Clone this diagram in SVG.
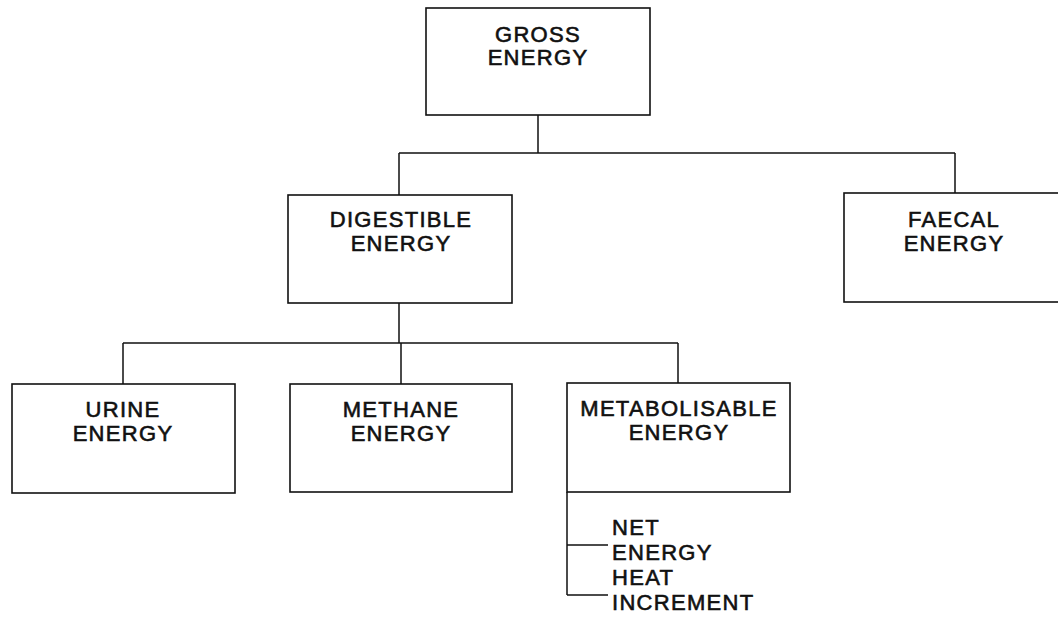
<svg xmlns="http://www.w3.org/2000/svg" width="1058" height="626" viewBox="0 0 1058 626">
<style>
.box{fill:#fff;stroke:#111;stroke-width:1.6}
.ln{fill:none;stroke:#111;stroke-width:1.5}
text{font-family:"Liberation Sans",Arial,sans-serif;font-size:22px;letter-spacing:1.3px;fill:#111;stroke:#111;stroke-width:0.6}
.c{text-anchor:middle}
</style>
<rect width="1058" height="626" fill="#fff"/>
<g id="connectors">
<path class="ln" d="M538 115V153M399 153H955M399 153V195M955 153V193"/>
<path class="ln" d="M399 303V343M123 343H678M123 343V384M401 343V384M678 343V383"/>
<path class="ln" d="M567 492V595M567 545H608M567 595H608"/>
</g>
<g id="gross"><rect class="box" x="426" y="8" width="224" height="107"/>
<text class="c" x="538" y="42">GROSS</text><text class="c" x="538" y="65">ENERGY</text></g>
<g id="digestible"><rect class="box" x="288" y="195" width="224" height="108"/>
<text class="c" x="401" y="227">DIGESTIBLE</text><text class="c" x="401" y="251">ENERGY</text></g>
<g id="faecal"><rect class="box" x="844" y="193" width="220" height="109"/>
<text class="c" x="954" y="227">FAECAL</text><text class="c" x="954" y="251">ENERGY</text></g>
<g id="urine"><rect class="box" x="12" y="384" width="223" height="109"/>
<text class="c" x="123" y="417">URINE</text><text class="c" x="123" y="441">ENERGY</text></g>
<g id="methane"><rect class="box" x="290" y="384" width="222" height="108"/>
<text class="c" x="401" y="417">METHANE</text><text class="c" x="401" y="441">ENERGY</text></g>
<g id="metabolisable"><rect class="box" x="567" y="383" width="223" height="109"/>
<text class="c" x="679" y="416">METABOLISABLE</text><text class="c" x="679" y="440">ENERGY</text></g>
<g id="net"><text x="612" y="535">NET</text><text x="612" y="560">ENERGY</text></g>
<g id="heat"><text x="612" y="585">HEAT</text><text x="612" y="610">INCREMENT</text></g>
</svg>
